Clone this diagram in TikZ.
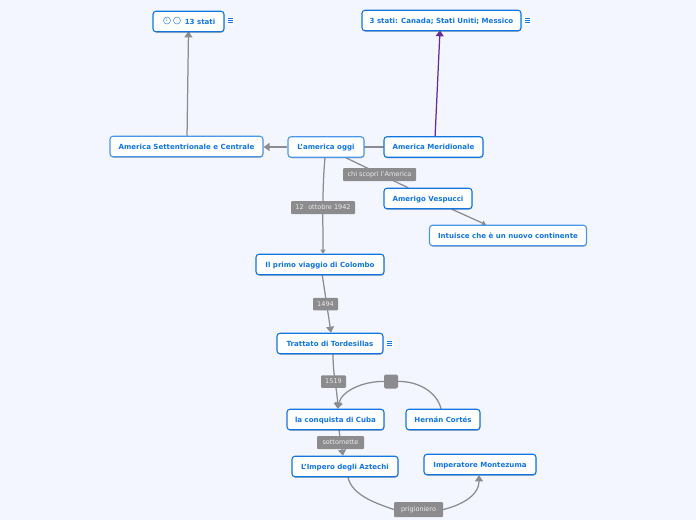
\documentclass[tikz,border=0pt]{standalone}
\usepackage{fontspec}
\setmainfont{DejaVu Sans}
\usetikzlibrary{arrows.meta,shadows}
\definecolor{pagebg}{HTML}{F3F6FF}
\definecolor{topicblue}{HTML}{1176E0}
\definecolor{softblue}{HTML}{4A97EA}
\definecolor{linkgray}{HTML}{8B8C90}
\definecolor{labelgray}{HTML}{8C8C8E}
\definecolor{linkpurple}{HTML}{652D90}
\pgfdeclarelayer{page}
\pgfdeclarelayer{links}
\pgfsetlayers{page,links,main}
\tikzset{
  x=1pt,y=-1pt,
  topic/.style={draw=#1,line width=1.1pt,rounded corners=3pt,fill=white,
    minimum height=20.5pt,inner sep=0pt,text=topicblue,text height=5.1pt,text depth=0pt,
    font=\fontsize{7.05}{8}\selectfont\bfseries,
    drop shadow={shadow xshift=0.4pt,shadow yshift=-1pt,opacity=.35,fill=black!70}},
  topic/.default=topicblue,
  tag/.style={fill=labelgray,rounded corners=1pt,text=white!92!black,inner sep=0pt,
    text height=4.7pt,text depth=0pt,font=\fontsize{6.5}{7}\selectfont},
  link/.style={draw=linkgray,line width=1.25pt,line cap=round},
  arrowed/.style={link,-{Triangle[length=6pt,width=8pt]}},
  arrowsmall/.style={link,-{Triangle[length=4pt,width=5pt]}},
  notemark/.style={fill=white,inner sep=0pt,minimum width=7pt,minimum height=8pt,text=topicblue},
  iconring/.style={circle,draw=softblue,line width=.6pt,fill=white,inner sep=0pt,minimum size=7pt},
}
% side-note marker: three short bars on a white tile
\newcommand{\notebars}[2]{%
  \node[notemark] (#1) at (#2) {\tikz[x=1pt,y=-1pt]{\foreach \b in {0,2,4}{\draw[topicblue,line width=.9pt] (0,\b)--(5,\b);}}};}
\begin{document}
\begin{tikzpicture}
\begin{pgfonlayer}{page}
\useasboundingbox[fill=pagebg] (0,0) rectangle (696,520);
\end{pgfonlayer}

% topics
\node[topic,minimum width=71pt] (tredici) at (188.5,21.5) {\hspace*{23pt}13 stati};
\node[iconring] (iconuno) at (167,20.5) {\fontsize{4}{4}\selectfont\color{softblue}1};
\node[iconring] (icondue) at (177,20.5) {};
\node[topic,minimum width=159pt] (trestati) at (441.5,20.5) {3 stati: Canada; Stati Uniti; Messico};
\node[topic=softblue,minimum width=153pt] (nord) at (186.5,146.5) {America Settentrionale e Centrale};
\node[topic=softblue,minimum width=76pt] (oggi) at (326,147) {L'america oggi};
\node[topic,minimum width=99pt] (sud) at (433.5,147) {America Meridionale};
\node[topic,minimum width=88pt] (vespucci) at (428,198.5) {Amerigo Vespucci};
\node[topic=softblue,minimum width=157pt] (intuisce) at (508,235.5) {Intuisce che è un nuovo continente};
\node[topic,minimum width=128pt] (viaggio) at (320,264.5) {Il primo viaggio di Colombo};
\node[topic,minimum width=106pt] (trattato) at (330,343.5) {Trattato di Tordesillas};
\node[topic,minimum width=97pt] (cuba) at (335.5,419.5) {la conquista di Cuba};
\node[topic,minimum width=74pt] (cortes) at (443,419.5) {Hernán Cortés};
\node[topic,minimum width=106pt] (aztechi) at (345,466.5) {L'Impero degli Aztechi};
\node[topic,minimum width=112pt] (montezuma) at (480,464.5) {Imperatore Montezuma};

% side-note markers
\notebars{notaA}{230,20.5}
\notebars{notaB}{527.5,20.5}
\notebars{notaC}{389.5,343.5}

% link labels
\node[tag,minimum width=73pt,minimum height=13pt] (chi) at (379.5,174.5) {chi scopri l'America};
\node[tag,minimum width=64pt,minimum height=13pt] (ottobre) at (323,207.5) {12\hspace{2.5pt} ottobre 1942};
\node[tag,minimum width=25pt,minimum height=12.5pt] (anno94) at (325.5,304) {1494};
\node[tag,minimum width=25pt,minimum height=12.5pt] (anno19) at (333.5,381.5) {1519};
\node[tag,minimum width=47pt,minimum height=13pt] (sotto) at (340.5,442.5) {sottomette};
\node[tag,minimum width=49pt,minimum height=15pt] (prig) at (418.5,509.5) {prigioniero};
\node[tag,minimum size=14pt,rounded corners=2pt] (nodo) at (391,381.5) {};

% connectors, on a layer beneath topics and labels
\begin{pgfonlayer}{links}
\draw[arrowed] ([xshift=.5pt,yshift=-2pt]nord.north) -- ([yshift=1pt]tredici.south);
\draw[arrowed] ([xshift=-1pt]oggi.west) -- (nord.east |- oggi.west);
\draw[link] (oggi.east) -- (sud.west);
\draw[arrowed,draw=linkpurple] ([xshift=1.5pt,yshift=-2pt]sud.north) -- ([xshift=-1.5pt,yshift=1pt]trestati.south);
\draw[link] ([xshift=20pt]oggi.south) -- ([xshift=-20pt]vespucci.north);
\draw[arrowsmall] ([xshift=24pt]vespucci.south) -- ([xshift=-22pt]intuisce.north);
\draw[arrowsmall] ([xshift=-1pt]oggi.south) .. controls (322,190) and (323,225) .. ([xshift=3pt]viaggio.north);
\draw[arrowed] ([xshift=2pt,yshift=2pt]viaggio.south) -- ([xshift=1pt]trattato.north);
\draw[arrowed] ([xshift=3pt]trattato.south) .. controls (333,375) and (337,390) .. ([xshift=2.5pt]cuba.north);
\draw[arrowed] ([xshift=3.5pt]cuba.south) -- ([xshift=-2pt]aztechi.north);
\draw[link] ([xshift=-2pt]cortes.north) .. controls (437,392) and (418,381) .. (nodo.east);
\draw[arrowed] (nodo.west) .. controls (365,381) and (342,390) .. ([xshift=2pt]cuba.north);
\draw[link] ([xshift=3pt]aztechi.south) .. controls (352,495) and (375,503) .. (prig.west);
\draw[arrowed] (prig.east) .. controls (458,506) and (479,497) .. ([xshift=-1pt]montezuma.south);
\end{pgfonlayer}
\end{tikzpicture}
\end{document}
